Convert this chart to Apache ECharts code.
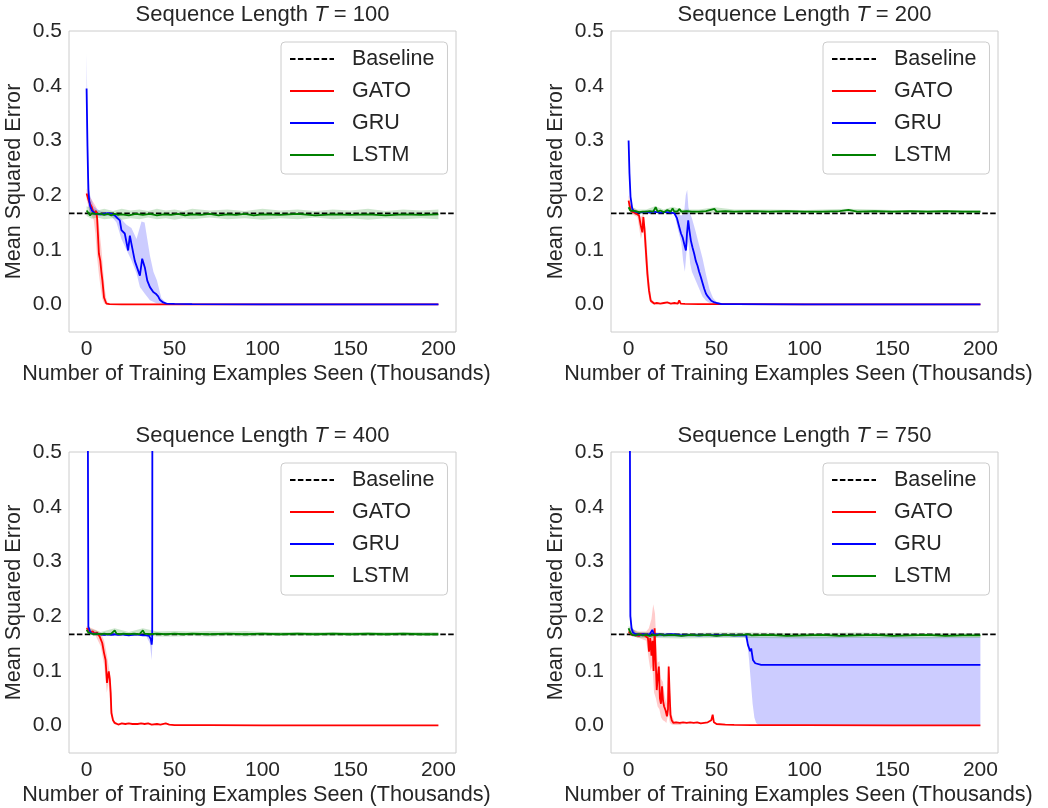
<!DOCTYPE html>
<html>
<head>
<meta charset="utf-8">
<script src="https://cdn.jsdelivr.net/npm/echarts@6/dist/echarts.min.js"></script>
<style>
html,body{margin:0;padding:0;background:#fff;}
#chart{width:1048px;height:808px;}
</style>
</head>
<body>
<div id="chart"></div>
<script>
// ---------- data (x in thousands of training examples, y = MSE) ----------
const seqLengths = [100, 200, 400, 750];
const seriesNames = ['Baseline', 'GATO', 'GRU', 'LSTM'];
const xTicks = [0, 50, 100, 150, 200];
const yTicks = [0, 0.1, 0.2, 0.3, 0.4, 0.5];
const baselineValue = 0.1667;
const baselineSpan = [-10, 210];

// T = 100
const gato100 = [[0,0.203],[1,0.192],[2,0.184],[3,0.178],[4,0.167],[5,0.166],[5.5,0.171],[6,0.157],[7,0.093],[7.8,0.08],[8.4,0.06],[9,0.044],[9.9,0.013],[11.2,0.002],[13,0.0008],[20,0.0006],[50,0.0004],[100,0.0003],[200,0.0003]];
const gato100Up = [[0,0.212],[2,0.196],[4,0.186],[5.5,0.178],[6.5,0.16],[7.5,0.13],[8.5,0.1],[9.5,0.06],[10.5,0.025],[11.5,0.006],[13,0.002]];
const gato100Lo = [[0,0.192],[2,0.168],[4,0.155],[5,0.13],[6,0.085],[7,0.055],[8,0.03],[9,0.01],[10,0.002],[13,0.0]];
const gru100 = [[0,0.395],[0.5,0.29],[1,0.21],[1.5,0.19],[2,0.18],[3,0.172],[4,0.169],[5,0.166],[6,0.167],[8,0.165],[10,0.166],[12,0.167],[14,0.166],[16,0.163],[17.5,0.158],[18.9,0.154],[19.8,0.136],[21.7,0.13],[23.6,0.099],[24.6,0.126],[25.5,0.111],[27.4,0.08],[30.3,0.053],[31.6,0.084],[33.1,0.068],[34.5,0.044],[36,0.032],[37.9,0.023],[39.3,0.02],[40.7,0.015],[41.6,0.009],[43.5,0.004],[45.4,0.002],[50,0.0015],[60,0.001],[100,0.0006],[150,0.0005],[200,0.0005]];
const gru100Up = [[0,0.46],[1,0.25],[2,0.2],[4,0.18],[8,0.17],[14,0.169],[17,0.166],[19.8,0.156],[22.7,0.146],[25.5,0.14],[28.4,0.12],[31.2,0.152],[33,0.15],[34,0.13],[36,0.09],[38,0.06],[40,0.044],[42.5,0.012],[45,0.004],[48,0.002]];
const gru100Lo = [[0,0.33],[1,0.18],[2,0.165],[4,0.163],[8,0.162],[14,0.162],[17,0.15],[19.8,0.12],[22.7,0.1],[25.5,0.081],[28.4,0.057],[30.3,0.032],[33.1,0.02],[36,0.008],[40,0.002],[48,0.0]];
const lstm100 = [[0,0.172],[1,0.168],[2,0.163],[3,0.167],[4,0.164],[5,0.166],[6,0.163],[8,0.166],[10,0.164],[12,0.166],[14,0.163],[16,0.166],[18,0.164],[20,0.165],[24,0.163],[28,0.166],[32,0.164],[36,0.166],[40,0.163],[44,0.165],[48,0.164],[52,0.166],[56,0.163],[60,0.165],[65,0.164],[70,0.166],[75,0.163],[80,0.165],[85,0.164],[90,0.166],[95,0.163],[100,0.165],[110,0.164],[120,0.166],[130,0.163],[140,0.165],[150,0.164],[160,0.165],[170,0.163],[180,0.165],[190,0.164],[200,0.165]];
const lstm100Up = [[0,0.18],[3,0.176],[6,0.172],[10,0.175],[15,0.171],[20,0.175],[25,0.172],[30,0.174],[35,0.171],[40,0.175],[45,0.172],[50,0.174],[55,0.171],[60,0.175],[70,0.172],[80,0.174],[90,0.171],[100,0.175],[110,0.172],[120,0.174],[130,0.171],[140,0.174],[150,0.172],[160,0.175],[170,0.171],[180,0.174],[190,0.172],[200,0.174]];
const lstm100Lo = [[0,0.162],[3,0.157],[6,0.159],[10,0.156],[15,0.158],[20,0.155],[25,0.158],[30,0.156],[35,0.159],[40,0.156],[45,0.158],[50,0.155],[55,0.158],[60,0.156],[70,0.159],[80,0.156],[90,0.158],[100,0.155],[110,0.158],[120,0.156],[130,0.159],[140,0.156],[150,0.158],[160,0.155],[170,0.158],[180,0.156],[190,0.158],[200,0.156]];

// T = 200
const gato200 = [[0,0.19],[1.1,0.172],[2.5,0.169],[4,0.167],[5,0.168],[5.9,0.163],[6.9,0.145],[7.8,0.132],[8.4,0.16],[9,0.14],[9.7,0.105],[10.7,0.056],[11.6,0.026],[12.6,0.007],[14.5,0.002],[16,0.003],[18,0.002],[20,0.003],[22,0.004],[24,0.002],[26,0.003],[28,0.002],[28.8,0.008],[29.6,0.002],[32,0.0015],[40,0.001],[60,0.0008],[100,0.0005],[200,0.0005]];
const gato200Up = [[0,0.2],[2,0.178],[5,0.172],[7,0.16],[8.5,0.165],[10,0.13],[11,0.075],[12,0.035],[13,0.01],[15,0.003]];
const gato200Lo = [[0,0.182],[2,0.165],[5,0.16],[7,0.12],[8.5,0.14],[9.5,0.08],[10.5,0.04],[11.5,0.015],[12.5,0.003],[15,0.0]];
const gru200 = [[0,0.3],[0.5,0.24],[1.1,0.197],[2.1,0.175],[3,0.171],[4,0.169],[6,0.168],[8,0.169],[10,0.17],[12,0.168],[14,0.17],[16,0.169],[18,0.168],[20,0.169],[22,0.169],[24,0.168],[26,0.167],[27.5,0.158],[28.8,0.142],[29.8,0.13],[30.7,0.123],[31.7,0.11],[32.6,0.099],[33.2,0.13],[33.9,0.154],[34.6,0.135],[35.4,0.117],[36.3,0.105],[37.3,0.093],[38.2,0.08],[39.2,0.071],[40.1,0.06],[41.1,0.05],[42,0.04],[43,0.029],[44,0.02],[45,0.015],[45.9,0.013],[47,0.007],[48.8,0.004],[50,0.003],[53,0.001],[60,0.001],[100,0.0005],[200,0.0005]];
const gru200Up = [[26,0.168],[28,0.165],[30,0.163],[31.5,0.166],[32.5,0.2],[33.3,0.21],[34,0.178],[35,0.166],[36,0.158],[38,0.135],[40,0.11],[42,0.085],[44,0.055],[46,0.028],[48,0.012],[50,0.005],[53,0.002]];
const gru200Lo = [[26,0.166],[28,0.138],[30,0.112],[31,0.08],[32,0.06],[33,0.1],[34,0.115],[35,0.075],[36,0.06],[38,0.045],[40,0.03],[42,0.015],[44,0.007],[46,0.003],[48,0.001],[53,0.0]];
const lstm200 = [[0,0.178],[1,0.172],[2,0.17],[4,0.171],[6,0.169],[8,0.17],[10,0.17],[12,0.171],[14,0.17],[15.4,0.178],[16.5,0.17],[18,0.172],[20,0.169],[22,0.173],[24,0.17],[25,0.176],[26,0.17],[28,0.171],[28.8,0.175],[30,0.17],[33,0.171],[36,0.17],[40,0.17],[44,0.171],[48.8,0.175],[50,0.17],[55,0.171],[60,0.17],[70,0.171],[80,0.17],[90,0.171],[100,0.17],[110,0.17],[120,0.171],[125,0.173],[130,0.17],[140,0.171],[150,0.17],[160,0.171],[170,0.17],[180,0.171],[190,0.17],[200,0.17]];
const lstm200Up = [[0,0.182],[5,0.174],[10,0.174],[15,0.18],[20,0.174],[25,0.179],[30,0.174],[40,0.174],[49,0.178],[60,0.174],[80,0.174],[100,0.173],[125,0.175],[150,0.173],[175,0.173],[200,0.173]];
const lstm200Lo = [[0,0.172],[5,0.166],[10,0.166],[15,0.168],[20,0.166],[25,0.168],[30,0.166],[40,0.166],[49,0.168],[60,0.167],[80,0.167],[100,0.167],[125,0.168],[150,0.167],[175,0.167],[200,0.167]];

// T = 400
const gato400 = [[0,0.178],[1,0.175],[2,0.171],[3.6,0.172],[4.5,0.168],[5.9,0.17],[7.4,0.163],[8.9,0.151],[9.9,0.133],[10.8,0.12],[11.6,0.078],[12.1,0.09],[12.6,0.099],[13.2,0.085],[13.7,0.06],[14.1,0.023],[15,0.01],[16,0.005],[17,0.004],[18,0.002],[19,0.003],[20,0.004],[22,0.003],[24,0.004],[26,0.003],[27,0.005],[29,0.003],[31,0.004],[33,0.003],[35,0.004],[37,0.002],[40,0.003],[42,0.002],[45,0.004],[47,0.002],[50,0.001],[70,0.0008],[100,0.0005],[200,0.0005]];
const gato400Up = [[0,0.182],[5,0.175],[8,0.17],[10,0.155],[11.5,0.13],[12.5,0.11],[13.5,0.09],[14.5,0.03],[15.5,0.01],[17,0.005]];
const gato400Lo = [[0,0.174],[5,0.165],[8,0.145],[10,0.11],[11.5,0.06],[12.5,0.08],[13.5,0.03],[14.5,0.01],[15.5,0.003],[17,0.001]];
const gru400 = [[0,1.5],[1,0.181],[2,0.172],[3,0.168],[4,0.167],[6,0.168],[8,0.167],[10,0.166],[12,0.167],[14,0.166],[16,0.167],[18,0.166],[20,0.167],[22,0.166],[24,0.165],[26,0.166],[28,0.167],[30,0.166],[32,0.165],[34,0.165],[35.5,0.164],[36.5,0.158],[37,0.148],[37.3,0.158],[37.6,1.5],[38,2.0]];
const gru400Up = [[34,0.167],[36,0.166],[37,0.165],[37.4,0.166]];
const gru400Lo = [[34,0.163],[36,0.15],[37,0.12],[37.4,0.15]];
const lstm400 = [[0,0.175],[1,0.17],[2,0.168],[4,0.167],[6,0.168],[8,0.167],[10,0.168],[12,0.167],[14,0.168],[16,0.174],[17,0.168],[19,0.167],[21,0.168],[24,0.167],[27,0.168],[30,0.167],[32,0.174],[33,0.168],[36,0.167],[40,0.168],[45,0.167],[50,0.168],[55,0.167],[60,0.168],[70,0.167],[80,0.168],[90,0.167],[100,0.168],[110,0.167],[120,0.168],[130,0.167],[140,0.168],[150,0.167],[160,0.168],[170,0.167],[180,0.168],[190,0.167],[200,0.167]];
const lstm400Up = [[0,0.18],[8,0.171],[16,0.178],[24,0.171],[32,0.178],[40,0.172],[50,0.173],[60,0.172],[70,0.173],[80,0.172],[90,0.173],[100,0.171],[120,0.171],[150,0.171],[200,0.171]];
const lstm400Lo = [[0,0.17],[8,0.164],[16,0.166],[24,0.164],[32,0.166],[40,0.163],[50,0.163],[60,0.164],[70,0.163],[80,0.164],[90,0.163],[100,0.164],[120,0.164],[150,0.164],[200,0.164]];

// T = 750
const gato750 = [[0,0.172],[1,0.17],[2,0.166],[3,0.168],[4,0.165],[5,0.167],[6,0.164],[7,0.168],[8,0.166],[9,0.165],[10,0.167],[11,0.16],[11.6,0.135],[12.3,0.16],[13,0.128],[13.6,0.155],[14.2,0.1],[14.8,0.178],[15.4,0.12],[16,0.065],[16.6,0.09],[17.2,0.108],[17.8,0.05],[18.4,0.04],[19,0.072],[19.6,0.045],[20.2,0.035],[21,0.028],[21.8,0.017],[22.4,0.03],[22.8,0.108],[23.3,0.06],[23.8,0.02],[24.5,0.01],[25.5,0.005],[27,0.006],[28,0.004],[29,0.005],[30,0.003],[31,0.006],[32,0.003],[33,0.005],[34,0.002],[35,0.006],[36,0.003],[37,0.005],[38,0.002],[39,0.006],[40,0.003],[41,0.004],[42,0.002],[43,0.005],[44,0.003],[45,0.006],[46,0.004],[47,0.01],[47.8,0.02],[48.5,0.006],[50,0.003],[55,0.002],[60,0.0015],[70,0.001],[100,0.0008],[150,0.0005],[200,0.0005]];
const gato750Up = [[0,0.178],[6,0.172],[10,0.172],[11.5,0.178],[13,0.195],[14,0.222],[15,0.205],[15.8,0.15],[16.5,0.115],[17.5,0.118],[18.5,0.085],[19.5,0.08],[20.5,0.055],[21.5,0.04],[22.5,0.115],[23.5,0.07],[24.5,0.02],[26,0.008],[30,0.006]];
const gato750Lo = [[0,0.165],[6,0.16],[10,0.155],[11.5,0.12],[12.5,0.1],[13.5,0.11],[14.5,0.06],[15.5,0.05],[16.5,0.035],[17.5,0.03],[18.5,0.015],[19.5,0.01],[20.5,0.008],[21.5,0.005],[22.5,0.02],[23.5,0.005],[24.5,0.002],[26,0.001],[30,0.001]];
const gru750 = [[0,1.5],[1,0.2],[1.7,0.178],[2.5,0.17],[4,0.167],[6,0.166],[8,0.167],[10,0.166],[12,0.167],[13.5,0.175],[14.5,0.166],[16,0.167],[20,0.166],[25,0.167],[30,0.165],[35,0.166],[40,0.165],[45,0.166],[50,0.165],[55,0.166],[60,0.165],[65,0.165],[66.9,0.165],[67.8,0.148],[69.1,0.136],[69.7,0.141],[70.7,0.12],[72,0.114],[75.4,0.111],[90,0.111],[110,0.111],[130,0.111],[150,0.111],[170,0.111],[200,0.111]];
const gru750Up = [[0,0.3],[1,0.22],[2,0.18],[4,0.17],[66,0.167],[70,0.163],[200,0.162]];
const gru750Lo = [[0,0.3],[1,0.18],[2,0.163],[4,0.162],[66,0.162],[67.5,0.15],[68.5,0.12],[69.5,0.08],[70.5,0.04],[71.5,0.015],[72.5,0.005],[74,0.001],[200,0.0]];
const lstm750 = [[0,0.178],[1,0.17],[2,0.166],[3,0.168],[4,0.165],[6,0.167],[8,0.165],[10,0.166],[12,0.164],[14,0.166],[16,0.165],[18,0.167],[20,0.165],[25,0.166],[30,0.164],[35,0.166],[40,0.165],[45,0.166],[50,0.164],[55,0.166],[60,0.165],[65,0.166],[68,0.167],[70,0.165],[80,0.166],[90,0.164],[100,0.165],[110,0.166],[120,0.164],[130,0.165],[140,0.166],[150,0.164],[160,0.165],[170,0.166],[180,0.164],[190,0.165],[200,0.165]];
const lstm750Up = [[0,0.182],[5,0.171],[15,0.17],[30,0.169],[50,0.17],[70,0.17],[100,0.169],[130,0.17],[160,0.169],[200,0.169]];
const lstm750Lo = [[0,0.172],[5,0.16],[15,0.16],[30,0.159],[50,0.16],[70,0.16],[100,0.159],[130,0.16],[160,0.159],[200,0.16]];

const panels = [
  {gato: gato100, gatoUp: gato100Up, gatoLo: gato100Lo, gru: gru100, gruUp: gru100Up, gruLo: gru100Lo, lstm: lstm100, lstmUp: lstm100Up, lstmLo: lstm100Lo},
  {gato: gato200, gatoUp: gato200Up, gatoLo: gato200Lo, gru: gru200, gruUp: gru200Up, gruLo: gru200Lo, lstm: lstm200, lstmUp: lstm200Up, lstmLo: lstm200Lo},
  {gato: gato400, gatoUp: gato400Up, gatoLo: gato400Lo, gru: gru400, gruUp: gru400Up, gruLo: gru400Lo, lstm: lstm400, lstmUp: lstm400Up, lstmLo: lstm400Lo},
  {gato: gato750, gatoUp: gato750Up, gatoLo: gato750Lo, gru: gru750, gruUp: gru750Up, gruLo: gru750Lo, lstm: lstm750, lstmUp: lstm750Up, lstmLo: lstm750Lo}
];

// ---------- layout / style ----------
const FONT = '"Liberation Sans", Arial, Helvetica, sans-serif';
const TXT = '#262626';
const gridPos = [
  {left: 69, top: 31}, {left: 611, top: 31},
  {left: 69, top: 452}, {left: 611, top: 452}
];
const GW = 387, GH = 301;
const colors = {GATO: '#ff0000', GRU: '#0000ff', LSTM: '#008000'};
const bandColors = {GATO: 'rgba(255,0,0,0.2)', GRU: 'rgba(0,0,255,0.2)', LSTM: 'rgba(0,128,0,0.2)'};

const chart = echarts.init(document.getElementById('chart'), null, {renderer: 'canvas'});

const grids = [], xAxes = [], yAxes = [], titles = [], legends = [], series = [];

function bandSeries(upper, lower, color, idx) {
  const pts = upper.concat(lower.slice().reverse());
  return {
    type: 'custom', name: 'band', xAxisIndex: idx, yAxisIndex: idx, silent: true, clip: true,
    data: [upper[0]], z: 1,
    renderItem: function (params, api) {
      const poly = pts.map(function (p) { return api.coord(p); });
      return {type: 'polygon', shape: {points: poly}, style: {fill: color, stroke: null}};
    }
  };
}

seqLengths.forEach(function (T, i) {
  const g = gridPos[i];
  grids.push({left: g.left, top: g.top, width: GW, height: GH, show: true,
    borderColor: '#cccccc', borderWidth: 1, backgroundColor: '#ffffff', containLabel: false});
  xAxes.push({
    type: 'value', gridIndex: i, min: -10, max: 210,
    name: 'Number of Training Examples Seen (Thousands)', nameLocation: 'middle', nameGap: 31,
    nameTextStyle: {fontFamily: FONT, fontSize: 21.6, color: TXT, padding: [0, 12, 0, 0]},
    axisLine: {show: false}, axisTick: {show: false}, splitLine: {show: false},
    axisLabel: {customValues: xTicks, fontFamily: FONT, fontSize: 21, color: TXT, margin: 7}
  });
  yAxes.push({
    type: 'value', gridIndex: i, min: -0.05, max: 0.5,
    name: 'Mean Squared Error', nameLocation: 'middle', nameGap: 44,
    nameTextStyle: {fontFamily: FONT, fontSize: 21.6, color: TXT},
    axisLine: {show: false}, axisTick: {show: false}, splitLine: {show: false},
    axisLabel: {customValues: yTicks, fontFamily: FONT, fontSize: 21, color: TXT, margin: 7,
      formatter: function (v) { return v.toFixed(1); }}
  });
  titles.push({
    text: '{a|Sequence Length }{b|T}{a| = ' + T + '}',
    left: g.left + GW / 2, top: g.top - 28, textAlign: 'center', padding: 0,
    textStyle: {fontWeight: 'normal', rich: {
      a: {fontFamily: FONT, fontSize: 22, color: TXT, fontWeight: 'normal', lineHeight: 24},
      b: {fontFamily: FONT, fontSize: 22, color: TXT, fontWeight: 'normal', fontStyle: 'italic', lineHeight: 24}
    }}
  });
  legends.push({
    data: seriesNames, orient: 'vertical', left: g.left + 212, top: g.top + 11,
    itemWidth: 44, itemHeight: 14, itemGap: 10, padding: [6, 13, 8, 8],
    backgroundColor: 'rgba(255,255,255,0.8)', borderColor: '#cccccc', borderWidth: 1, borderRadius: 4,
    itemStyle: {opacity: 0},
    textStyle: {fontFamily: FONT, fontSize: 21.5, color: TXT, padding: [0, 0, 0, 13]},
    selectedMode: false
  });
  const p = panels[i];
  series.push({
    type: 'line', name: 'Baseline', xAxisIndex: i, yAxisIndex: i, showSymbol: false, symbol: 'none',
    data: [[baselineSpan[0], baselineValue], [baselineSpan[1], baselineValue]],
    lineStyle: {color: '#000000', width: 1.6, type: [5.5, 2.4]}, itemStyle: {color: '#000000'}, z: 2, silent: true
  });
  series.push(bandSeries(p.gatoUp, p.gatoLo, bandColors.GATO, i));
  series.push({type: 'line', name: 'GATO', xAxisIndex: i, yAxisIndex: i, showSymbol: false, symbol: 'none',
    data: p.gato, clip: true, lineStyle: {color: colors.GATO, width: 1.8}, itemStyle: {color: colors.GATO}, z: 3, silent: true});
  series.push(bandSeries(p.gruUp, p.gruLo, bandColors.GRU, i));
  series.push({type: 'line', name: 'GRU', xAxisIndex: i, yAxisIndex: i, showSymbol: false, symbol: 'none',
    data: p.gru, clip: true, lineStyle: {color: colors.GRU, width: 1.8}, itemStyle: {color: colors.GRU}, z: 4, silent: true});
  series.push(bandSeries(p.lstmUp, p.lstmLo, bandColors.LSTM, i));
  series.push({type: 'line', name: 'LSTM', xAxisIndex: i, yAxisIndex: i, showSymbol: false, symbol: 'none',
    data: p.lstm, clip: true, lineStyle: {color: colors.LSTM, width: 1.8}, itemStyle: {color: colors.LSTM}, z: 5, silent: true});
});

chart.setOption({
  animation: false,
  backgroundColor: '#ffffff',
  textStyle: {fontFamily: FONT},
  title: titles, grid: grids, xAxis: xAxes, yAxis: yAxes, legend: legends, series: series
});
</script>
</body>
</html>
